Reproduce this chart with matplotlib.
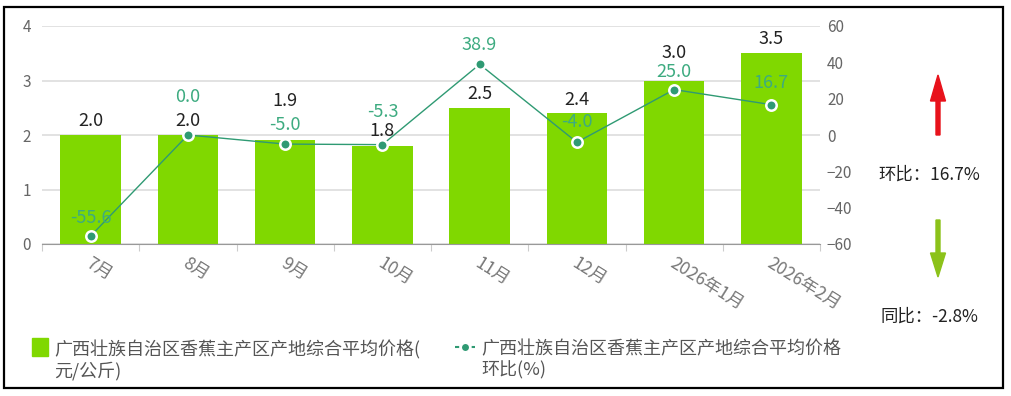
import matplotlib
matplotlib.use('Agg')
import matplotlib.pyplot as plt
from matplotlib.patches import Rectangle, FancyArrow
from matplotlib.lines import Line2D
import numpy as np

plt.rcParams['font.family'] = ['Noto Sans CJK SC', 'DejaVu Sans']

months = ['7月', '8月', '9月', '10月', '11月', '12月', '2026年1月', '2026年2月']
price = [2.0, 2.0, 1.9, 1.8, 2.5, 2.4, 3.0, 3.5]
mom = [-55.6, 0.0, -5.0, -5.3, 38.9, -4.0, 25.0, 16.7]
bar_name = '广西壮族自治区香蕉主产区产地综合平均价格(\n元/公斤)'
line_name = '广西壮族自治区香蕉主产区产地综合平均价格\n环比(%)'
mom_text = '环比：16.7%'
yoy_text = '同比：-2.8%'

# label nudges (pixels above the mark), echarts shifts some to avoid overlap
bar_lab_off = [14, 14, 39, 15, 14, 13, 28, 14]
line_lab_off = [18, 38, 19, 33, 19, 20, 18, 22]

bar_c = '#80d800'
line_c = '#2f9a73'
lab_c = '#3dab80'
grey = '#666666'

fig = plt.figure(figsize=(10.11, 3.96), dpi=100)
ax = fig.add_axes([42/1011, 1-244/396, (820-42)/1011, (244-26)/396])
ax2 = ax.twinx()

x = np.arange(len(months))
ax.bar(x, price, width=0.62, color=bar_c, zorder=2)
ax.set_xlim(-0.5, len(months)-0.5)
ax.set_ylim(0, 4)
ax.set_yticks([0, 1, 2, 3, 4])
ax.grid(axis='y', color='#dddddd', linewidth=1.2, zorder=0)
ax.set_axisbelow(True)
for s in ['top', 'right', 'left']:
    ax.spines[s].set_visible(False)
ax.spines['bottom'].set_color('#999999')
ax.tick_params(axis='y', length=0, labelsize=11, labelcolor=grey, pad=8)
ax.set_xticks(np.arange(len(months)+1)-0.5, minor=False)
ax.set_xticklabels([])
ax.tick_params(axis='x', length=5, color='#cccccc')
for i, m in enumerate(months):
    ax.annotate(m, (i, 0), xytext=(-3, -18), textcoords='offset pixels',
                rotation=-32, rotation_mode='anchor', ha='left', va='center',
                fontsize=12.5, color='#777777', annotation_clip=False)

for i, v in enumerate(price):
    ax.annotate(f'{v:.1f}', (i, v), xytext=(0, bar_lab_off[i]), textcoords='offset pixels',
                ha='center', va='center', fontsize=13, color='#222222', zorder=5)

ax2.plot(x, mom, color=line_c, linewidth=1, marker='o', markersize=7.5,
         markerfacecolor=line_c, markeredgecolor='white', markeredgewidth=1.8, zorder=4)
ax2.set_ylim(-60, 60)
ax2.set_yticks([60, 40, 20, 0, -20, -40, -60])
for s in ['top', 'right', 'left', 'bottom']:
    ax2.spines[s].set_visible(False)
ax2.tick_params(axis='y', length=0, labelsize=11, labelcolor=grey, pad=5)
for i, v in enumerate(mom):
    ax2.annotate(f'{v:.1f}', (i, v), xytext=(0, line_lab_off[i]), textcoords='offset pixels',
                 ha='center', va='center', fontsize=13, color=lab_c, zorder=5)

# legend
fig.patches.append(Rectangle((32/1011, 1-356/396), 16/1011, 18/396,
                             transform=fig.transFigure, color=bar_c))
fig.text(54/1011, 1-360/396, bar_name, fontsize=13, color='#555555', va='center',
         linespacing=1.15)
fig.lines.append(Line2D([455/1011, 475/1011], [1-347/396]*2, transform=fig.transFigure,
                        color=line_c, linestyle=(0, (2, 2)), linewidth=1.5))
fig.lines.append(Line2D([465/1011], [1-347/396], transform=fig.transFigure, marker='o',
                        markersize=6, color=line_c, markeredgecolor='white',
                        markeredgewidth=1))
fig.text(481/1011, 1-360/396, line_name, fontsize=13, color='#555555', va='center',
         linespacing=1.15)

# right side indicators
fig.patches.append(FancyArrow(
    938/1011, 1-135/396, 0, -(75-135)/396, width=4/1011, head_width=15/1011,
    head_length=26/396, length_includes_head=True, transform=fig.transFigure,
    color='#e8121b'))
fig.patches.append(FancyArrow(
    938/1011, 1-220/396, 0, -(277-220)/396, width=4/1011, head_width=15/1011,
    head_length=24/396, length_includes_head=True, transform=fig.transFigure,
    color='#8cc21a'))
fig.text(929/1011, 1-175/396, mom_text, fontsize=12.5, color='#222222', ha='center', va='center')
fig.text(929/1011, 1-317/396, yoy_text, fontsize=12.5, color='#222222', ha='center', va='center')

# outer frame
fig.patches.append(Rectangle((4/1011, 1-388/396), 999/1011, 381/396, transform=fig.transFigure,
                             fill=False, edgecolor='black', linewidth=1.6))

fig.savefig('out.png', dpi=100)
